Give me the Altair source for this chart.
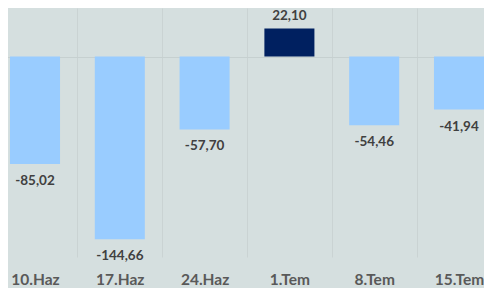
import altair as alt
import pandas as pd

categories = ["10.Haz", "17.Haz", "24.Haz", "1.Tem", "8.Tem", "15.Tem"]
values = [-85.02, -144.66, -57.70, 22.10, -54.46, -41.94]

df = pd.DataFrame({"cat": categories, "value": values})

BG = "#d5dfdf"
FONT = "Lato"

x = alt.X(
    "cat:N",
    sort=categories,
    scale=alt.Scale(range=[-15.4, 493.4], paddingInner=0, paddingOuter=0),
    axis=alt.Axis(
        title=None,
        domain=False,
        ticks=False,
        tickSize=0,
        labelAngle=0,
        labelFont=FONT,
        labelFontSize=15.5,
        labelFontWeight="bold",
        labelColor="#595959",
        labelPadding=15,
        grid=True,
        gridColor="#cad3d3",
        gridWidth=1,
        tickBand="extent",
    ),
)
y = alt.Y(
    "value:Q",
    scale=alt.Scale(domain=[-158.66, 38.38], nice=False, zero=False),
    axis=alt.Axis(
        title=None,
        values=[0],
        labels=False,
        ticks=False,
        domain=False,
        grid=True,
        gridColor="#c6d0d0",
        gridWidth=1,
    ),
)

base = alt.Chart(df)

bars = base.mark_bar(width=alt.RelativeBandSize(0.59)).encode(
    x=x,
    y=y,
    y2=alt.datum(0),
    color=alt.condition(alt.datum.value > 0, alt.value("#002060"), alt.value("#99ccff")),
)

lab = base.transform_calculate(
    label="(datum.value < 0 ? '-' : '') + replace(format(abs(datum.value), '.2f'), '.', ',')"
)

pos_text = lab.transform_filter(alt.datum.value > 0).mark_text(
    baseline="alphabetic", dy=-9, font=FONT, fontSize=13.5, fontWeight="bold", color="#404040"
).encode(x=x, y=y, text="label:N")

neg_text = lab.transform_filter(alt.datum.value <= 0).mark_text(
    baseline="top", dy=10, font=FONT, fontSize=13.5, fontWeight="bold", color="#404040"
).encode(x=x, y=y, text="label:N")

chart = (
    alt.layer(bars, pos_text, neg_text)
    .properties(
        width=476,
        height=249,
        background=BG,
        padding={"top": 0, "left": 0, "right": 0, "bottom": 31},
        autosize=alt.AutoSizeParams(type="none"),
    )
    .configure_view(stroke=None)
)

chart.save("out.html", embed_options={"renderer": "svg", "actions": False})
